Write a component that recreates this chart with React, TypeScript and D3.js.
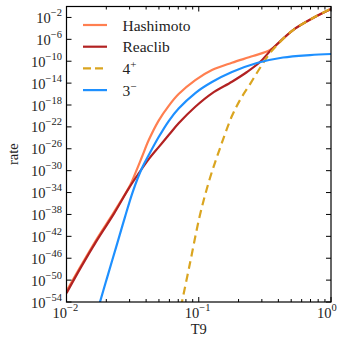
import React from 'react';
import * as d3 from 'd3';

// ---- data (T9, log10 rate) ----
const reaclibT = [0.0100, 0.01288, 0.01702, 0.02286, 0.02951, 0.03516, 0.04188, 0.04977, 0.05929, 0.07047, 0.09419, 0.1259, 0.1782, 0.2317, 0.2904, 0.3581, 0.5164, 0.7311, 1.0];
const reaclibLogRate = [-52.38, -47.62, -42.69, -37.84, -33.27, -30.49, -27.88, -25.69, -23.49, -21.35, -18.32, -15.87, -13.75, -11.97, -10.15, -7.77, -4.30, -2.10, -0.46];

const hashimotoT = [0.0100, 0.01288, 0.01702, 0.02286, 0.03034, 0.03311, 0.03724, 0.04188, 0.04977, 0.05929, 0.07047, 0.09419, 0.1259, 0.1782, 0.2570, 0.3459, 0.4111, 0.5164, 0.7311, 1.0];
const hashimotoLogRate = [-52.0, -47.35, -42.4, -37.57, -32.63, -30.49, -27.46, -24.41, -20.85, -18.15, -16.0, -13.44, -11.61, -10.27, -9.05, -7.95, -6.45, -4.30, -2.10, -0.46];

const plus4T = [0.07345, 0.07464, 0.08590, 0.1021, 0.1216, 0.1449, 0.1782, 0.2051, 0.2443, 0.2904, 0.3459, 0.4111, 0.5164, 0.7311, 1.0];
const plus4LogRate = [-54.94, -54.02, -46.89, -38.12, -31.35, -25.87, -20.02, -17.09, -14.17, -11.24, -8.50, -6.49, -4.30, -2.10, -0.40];

const minus3T = [0.01714, 0.01791, 0.02023, 0.02410, 0.02767, 0.03184, 0.03724, 0.04188, 0.04977, 0.05929, 0.07047, 0.09419, 0.1259, 0.1782, 0.2754, 0.4335, 0.6934, 1.0];
const minus3LogRate = [-55.5, -54.02, -49.63, -43.42, -38.48, -33.73, -29.52, -27.15, -23.86, -20.93, -18.65, -15.81, -13.80, -11.97, -10.33, -9.32, -8.87, -8.68];

const yTickExponents = [-54, -50, -46, -42, -38, -34, -30, -26, -22, -18, -14, -10, -6, -2];
const xTickExponents = [-2, -1, 0];

const series = [
  { name: 'Hashimoto', sup: '', T: hashimotoT, r: hashimotoLogRate, color: '#ff7f50', dash: '' },
  { name: 'Reaclib', sup: '', T: reaclibT, r: reaclibLogRate, color: '#b22222', dash: '' },
  { name: '4', sup: '+', T: plus4T, r: plus4LogRate, color: '#daa520', dash: '8,5' },
  { name: '3', sup: '\u2212', T: minus3T, r: minus3LogRate, color: '#1e90ff', dash: '' },
];

const W = 342, H = 339;
const L = 66.5, R = 331, T0 = 6.5, B = 302;
const FONT = "'Liberation Serif', 'DejaVu Serif', serif";

export default function App() {
  const x = d3.scaleLog().domain([0.01, 1]).range([L, R]);
  const y = d3.scaleLog().domain([1e-54, 1]).range([B, T0]);
  const line = d3.line<[number, number]>()
    .x(d => x(d[0]))
    .y(d => y(Math.pow(10, d[1])))
    .curve(d3.curveCatmullRom.alpha(0.5));

  const minorX: number[] = [];
  [0.01, 0.1].forEach(dec => { for (let k = 2; k <= 9; k++) minorX.push(dec * k); });

  return (
    <svg width={W} height={H} style={{ position: 'absolute', left: 0, top: 0, background: '#fff' }}>
      <defs>
        <clipPath id="plotclip"><rect x={L} y={T0} width={R - L} height={B - T0} /></clipPath>
      </defs>
      <g clipPath="url(#plotclip)">
        {series.map(s => (
          <path key={s.name} d={line(s.T.map((t, i) => [t, s.r[i]] as [number, number])) || ''}
            fill="none" stroke={s.color} strokeWidth={2.2} strokeDasharray={s.dash || undefined} />
        ))}
      </g>
      {/* frame */}
      <rect x={L} y={T0} width={R - L} height={B - T0} fill="none" stroke="#000" strokeWidth={1.2} />
      {/* y ticks */}
      {yTickExponents.map(e => {
        const yy = y(Math.pow(10, e));
        return (
          <g key={'y' + e}>
            <line x1={L} x2={L + 5} y1={yy} y2={yy} stroke="#000" strokeWidth={1} />
            <line x1={R} x2={R - 5} y1={yy} y2={yy} stroke="#000" strokeWidth={1} />
            <text x={62} y={yy + 5.5} textAnchor="end" style={{ fontFamily: FONT }} fontSize={14.5} fill="#222">
              10<tspan dy={-7} fontSize={10.5}>{'\u2212' + Math.abs(e)}</tspan>
            </text>
          </g>
        );
      })}
      {/* x ticks */}
      {xTickExponents.map(e => {
        const xx = x(Math.pow(10, e));
        return (
          <g key={'x' + e}>
            <line x1={xx} x2={xx} y1={B} y2={B - 5} stroke="#000" strokeWidth={1} />
            <line x1={xx} x2={xx} y1={T0} y2={T0 + 5} stroke="#000" strokeWidth={1} />
            <text x={xx - 14} y={318} textAnchor="start" style={{ fontFamily: FONT }} fontSize={14.5} fill="#222">
              10<tspan dy={-7} fontSize={10.5}>{e === 0 ? '0' : '\u2212' + Math.abs(e)}</tspan>
            </text>
          </g>
        );
      })}
      {minorX.map(v => (
        <g key={'m' + v}>
          <line x1={x(v)} x2={x(v)} y1={B} y2={B - 3} stroke="#000" strokeWidth={1} />
          <line x1={x(v)} x2={x(v)} y1={T0} y2={T0 + 3} stroke="#000" strokeWidth={1} />
        </g>
      ))}
      {/* axis labels */}
      <text x={(L + R) / 2} y={334} textAnchor="middle" style={{ fontFamily: FONT }} fontSize={14.5} fill="#222">T9</text>
      <text transform={`translate(18,${(T0 + B) / 2}) rotate(-90)`} textAnchor="middle" style={{ fontFamily: FONT }} fontSize={14.5} fill="#222">rate</text>
      {/* legend */}
      {series.map((s, i) => {
        const ly = 25 + i * 21.7;
        return (
          <g key={'lg' + s.name}>
            <line x1={83} x2={107} y1={ly} y2={ly} stroke={s.color} strokeWidth={2.2} strokeDasharray={s.dash ? '8,4' : undefined} />
            <text x={122.5} y={ly + 5.5} style={{ fontFamily: FONT }} fontSize={15.5} fill="#222">
              {s.name}{s.sup ? <tspan dy={-6} fontSize={11}>{s.sup}</tspan> : null}
            </text>
          </g>
        );
      })}
    </svg>
  );
}
